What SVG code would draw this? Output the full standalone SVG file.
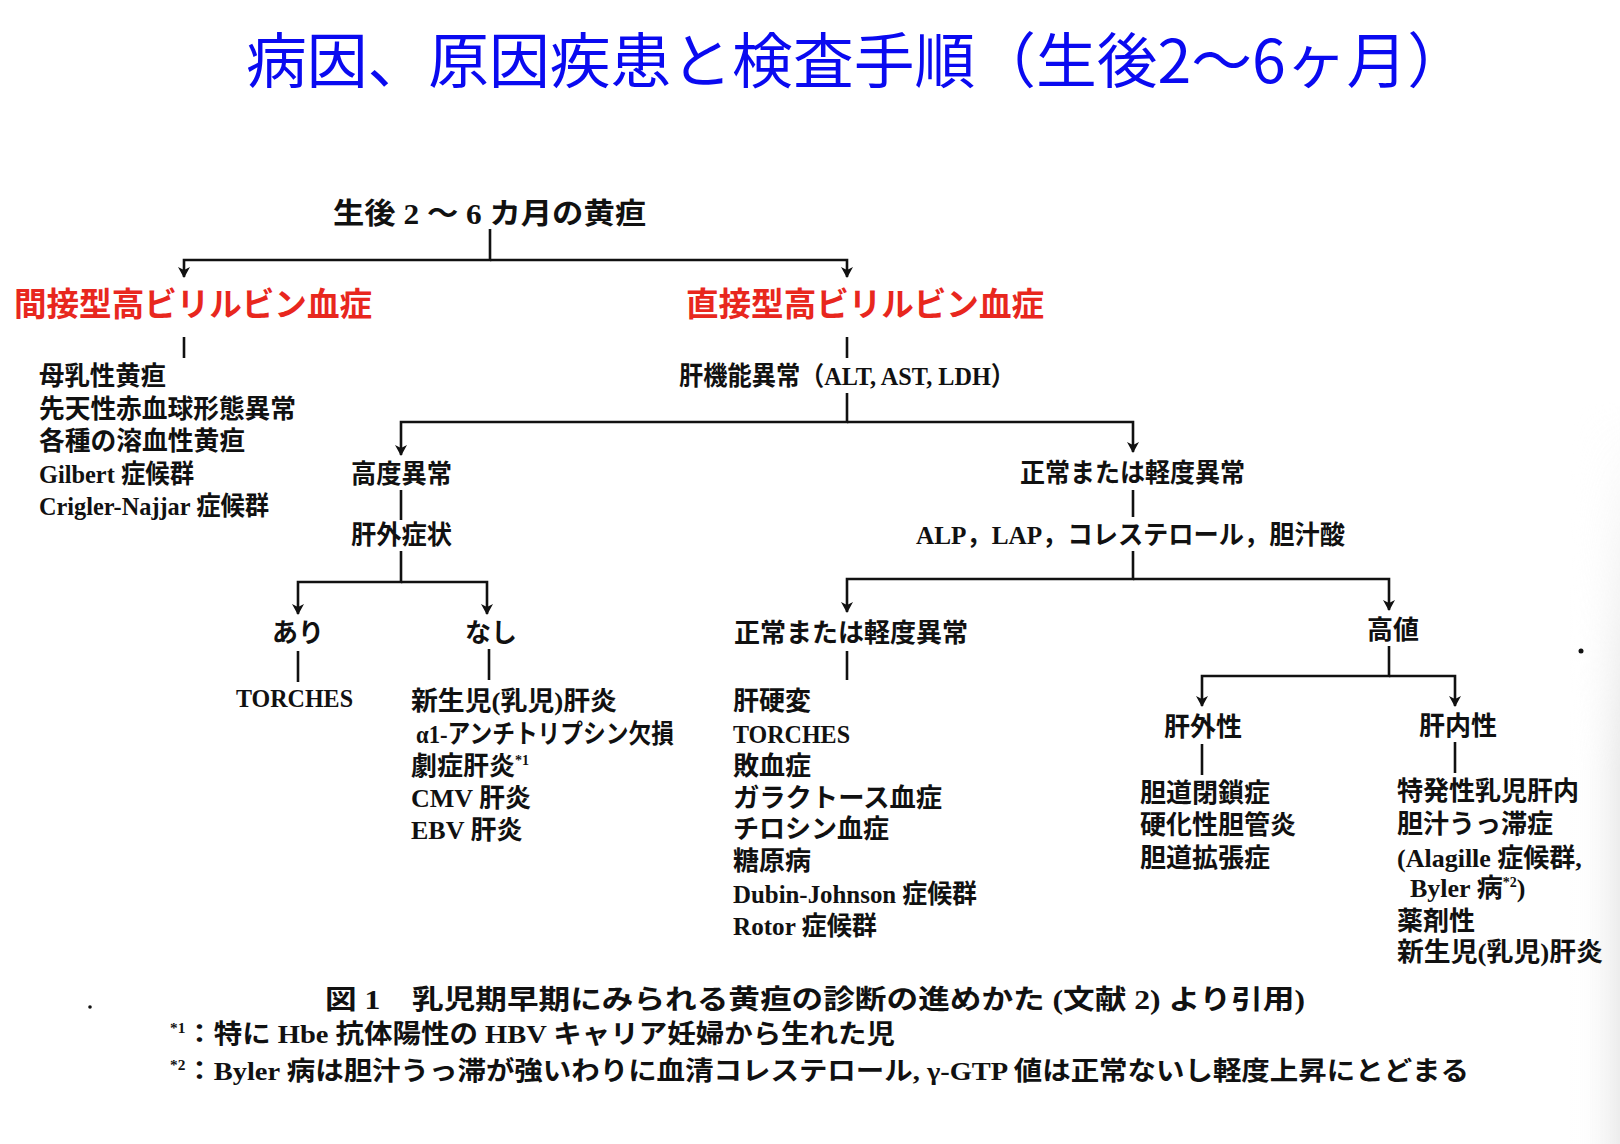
<svg xmlns="http://www.w3.org/2000/svg" width="1620" height="1144" viewBox="0 0 1620 1144">
<defs>
<style>
.t{font-family:"Liberation Serif","Noto Sans CJK JP",serif;font-size:26px;font-weight:bold;fill:#111}
.title{font-family:"Noto Sans CJK JP","Noto Sans",sans-serif;font-size:60px;fill:#0a0af0}
.red{font-family:"Noto Sans CJK JP","Noto Sans",sans-serif;font-size:33px;font-weight:bold;fill:#e8271e}
.ln{fill:none;stroke:#111;stroke-width:2.6}
.sup{font-size:14px}
</style>
<marker id="ah" markerUnits="userSpaceOnUse" markerWidth="14" markerHeight="14" refX="10" refY="6" orient="auto">
<path d="M0,0 L11,6 L0,12 L3,6 Z" fill="#111"/>
</marker>
<linearGradient id="shade" x1="0" y1="0" x2="1" y2="0">
<stop offset="0" stop-color="#ffffff" stop-opacity="0"/>
<stop offset="1" stop-color="#e4e4e4" stop-opacity="1"/>
</linearGradient>
<linearGradient id="fadev" x1="0" y1="0" x2="0" y2="1">
<stop offset="0" stop-color="#000"/>
<stop offset="0.5" stop-color="#fff"/>
<stop offset="1" stop-color="#fff"/>
</linearGradient>
<mask id="m" maskUnits="userSpaceOnUse" x="1560" y="400" width="60" height="744">
<rect x="1560" y="400" width="60" height="744" fill="url(#fadev)"/>
</mask>
</defs>
<rect width="1620" height="1144" fill="#ffffff"/>
<rect x="1570" y="400" width="50" height="744" fill="url(#shade)" mask="url(#m)" opacity="0.7"/>

<g id="title"><text class="title" x="246" y="83" textLength="1222" lengthAdjust="spacingAndGlyphs">病因、原因疾患と検査手順（生後2〜6ヶ月）</text></g>

<g id="connectors">
<path class="ln" d="M490,229 V260 H184 V277" marker-end="url(#ah)"/>
<path class="ln" d="M490,260 H847 V277" marker-end="url(#ah)"/>
<path class="ln" d="M184,337 V358"/>
<path class="ln" d="M847,337 V358"/>
<path class="ln" d="M847,393 V422 H401 V455" marker-end="url(#ah)"/>
<path class="ln" d="M847,422 H1133 V452" marker-end="url(#ah)"/>
<path class="ln" d="M401,490 V520"/>
<path class="ln" d="M401,551 V582 H298 V614" marker-end="url(#ah)"/>
<path class="ln" d="M401,582 H487 V614" marker-end="url(#ah)"/>
<path class="ln" d="M298,651 V682"/>
<path class="ln" d="M489,649 V680"/>
<path class="ln" d="M1133,490 V517"/>
<path class="ln" d="M1133,551 V579 H847 V612" marker-end="url(#ah)"/>
<path class="ln" d="M1133,579 H1389 V610" marker-end="url(#ah)"/>
<path class="ln" d="M847,651 V680"/>
<path class="ln" d="M1389,646 V676 H1202 V706" marker-end="url(#ah)"/>
<path class="ln" d="M1389,676 H1455 V706" marker-end="url(#ah)"/>
<path class="ln" d="M1202,744 V775"/>
<path class="ln" d="M1455,742 V773"/>
</g>

<g id="root"><text class="t" x="333" y="224" style="font-size:29px" textLength="313" lengthAdjust="spacingAndGlyphs">生後 2 〜 6 カ月の黄疸</text></g>
<g id="indirect"><text class="red" x="14" y="316" textLength="358" lengthAdjust="spacingAndGlyphs">間接型高ビリルビン血症</text></g>
<g id="direct"><text class="red" x="686" y="316" textLength="358" lengthAdjust="spacingAndGlyphs">直接型高ビリルビン血症</text></g>

<g id="indirect-list">
<text class="t" x="39" y="385" textLength="127" lengthAdjust="spacingAndGlyphs">母乳性黄疸</text>
<text class="t" x="39" y="418" textLength="257" lengthAdjust="spacingAndGlyphs">先天性赤血球形態異常</text>
<text class="t" x="39" y="450" textLength="206" lengthAdjust="spacingAndGlyphs">各種の溶血性黄疸</text>
<text class="t" x="39" y="483" textLength="155" lengthAdjust="spacingAndGlyphs">Gilbert 症候群</text>
<text class="t" x="39" y="515" textLength="230" lengthAdjust="spacingAndGlyphs">Crigler-Najjar 症候群</text>
</g>

<g id="liver-function"><text class="t" x="679" y="385" textLength="336" lengthAdjust="spacingAndGlyphs">肝機能異常（ALT, AST, LDH）</text></g>
<g id="severe"><text class="t" x="351" y="483" textLength="101" lengthAdjust="spacingAndGlyphs">高度異常</text></g>
<g id="extrahepatic-symptoms"><text class="t" x="351" y="544" textLength="101" lengthAdjust="spacingAndGlyphs">肝外症状</text></g>
<g id="ari"><text class="t" x="272" y="642">あり</text></g>
<g id="nashi"><text class="t" x="465" y="642">なし</text></g>
<g id="torches1"><text class="t" x="236" y="707" textLength="117" lengthAdjust="spacingAndGlyphs">TORCHES</text></g>
<g id="nashi-list">
<text class="t" x="411" y="710" textLength="206" lengthAdjust="spacingAndGlyphs">新生児(乳児)肝炎</text>
<text class="t" x="416" y="743" textLength="258" lengthAdjust="spacingAndGlyphs">α1-アンチトリプシン欠損</text>
<text class="t" x="411" y="775">劇症肝炎<tspan class="sup" dy="-10">*1</tspan></text>
<text class="t" x="411" y="807">CMV 肝炎</text>
<text class="t" x="411" y="839">EBV 肝炎</text>
</g>

<g id="mild1"><text class="t" x="1020" y="482" textLength="225" lengthAdjust="spacingAndGlyphs">正常または軽度異常</text></g>
<g id="alp"><text class="t" x="916" y="544" textLength="429" lengthAdjust="spacingAndGlyphs">ALP，LAP，コレステロール，胆汁酸</text></g>
<g id="mild2"><text class="t" x="734" y="642" textLength="234" lengthAdjust="spacingAndGlyphs">正常または軽度異常</text></g>
<g id="mild2-list">
<text class="t" x="733" y="710">肝硬変</text>
<text class="t" x="733" y="743" textLength="117" lengthAdjust="spacingAndGlyphs">TORCHES</text>
<text class="t" x="733" y="775">敗血症</text>
<text class="t" x="733" y="807" textLength="209" lengthAdjust="spacingAndGlyphs">ガラクトース血症</text>
<text class="t" x="733" y="838">チロシン血症</text>
<text class="t" x="733" y="870">糖原病</text>
<text class="t" x="733" y="903" textLength="244" lengthAdjust="spacingAndGlyphs">Dubin-Johnson 症候群</text>
<text class="t" x="733" y="935" textLength="144" lengthAdjust="spacingAndGlyphs">Rotor 症候群</text>
</g>
<g id="high"><text class="t" x="1367" y="639">高値</text></g>
<g id="extrahepatic"><text class="t" x="1164" y="736">肝外性</text></g>
<g id="intrahepatic"><text class="t" x="1419" y="735">肝内性</text></g>
<g id="extrahepatic-list">
<text class="t" x="1140" y="802">胆道閉鎖症</text>
<text class="t" x="1140" y="834">硬化性胆管炎</text>
<text class="t" x="1140" y="867">胆道拡張症</text>
</g>
<g id="intrahepatic-list">
<text class="t" x="1397" y="800">特発性乳児肝内</text>
<text class="t" x="1397" y="833">胆汁うっ滞症</text>
<text class="t" x="1397" y="867">(Alagille 症候群,</text>
<text class="t" x="1410" y="897">Byler 病<tspan class="sup" dy="-10">*2</tspan><tspan dy="10">)</tspan></text>
<text class="t" x="1397" y="930">薬剤性</text>
<text class="t" x="1397" y="961" textLength="206" lengthAdjust="spacingAndGlyphs">新生児(乳児)肝炎</text>
</g>

<g id="caption">
<text class="t" x="325" y="1009" style="font-size:27px" textLength="980" lengthAdjust="spacingAndGlyphs">図 1　乳児期早期にみられる黄疸の診断の進めかた (文献 2) より引用)</text>
<text class="t" x="170" y="1043" textLength="725" lengthAdjust="spacingAndGlyphs"><tspan class="sup" dy="-10">*1</tspan><tspan dy="10">：特に Hbe 抗体陽性の HBV キャリア妊婦から生れた児</tspan></text>
<text class="t" x="170" y="1080" textLength="1299" lengthAdjust="spacingAndGlyphs"><tspan class="sup" dy="-10">*2</tspan><tspan dy="10">：Byler 病は胆汁うっ滞が強いわりに血清コレステロール, γ-GTP 値は正常ないし軽度上昇にとどまる</tspan></text>
</g>

<g id="specks">
<circle cx="1581" cy="651" r="2.5" fill="#111"/>
<circle cx="90" cy="1007" r="1.8" fill="#111"/>
</g>
</svg>
